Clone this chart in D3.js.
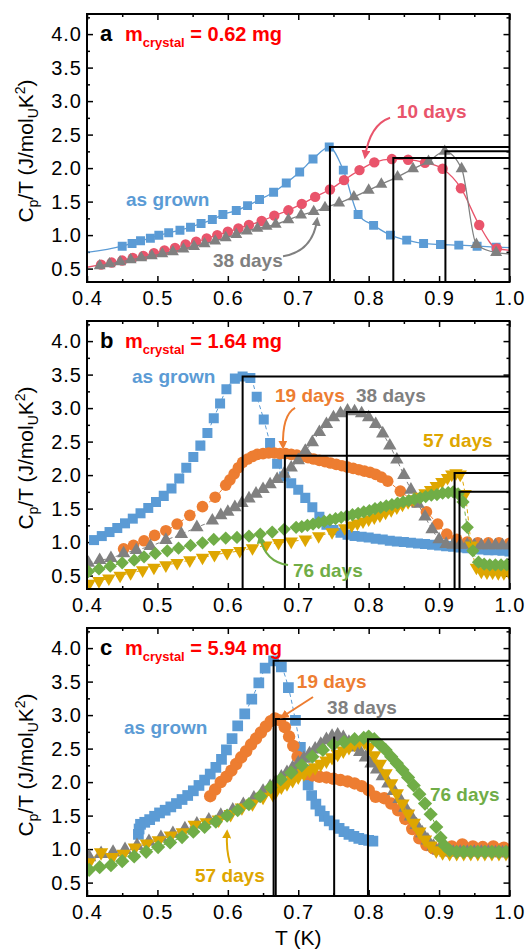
<!DOCTYPE html>
<meta charset="utf-8">
<style>

html, body {
  margin: 0;
  padding: 0;
  background: #fff;
}

svg {
  display: block;
  font-family: Arial, "Liberation Sans", sans-serif;
}

.axis text {
  font-size: 20px;
  letter-spacing: 1px;
  fill: #000;
}

.axis line {
  stroke: #000;
  stroke-width: 1.5px;
}

.axis .domain {
  display: none;
}

</style>
<svg id="chart"></svg>
<script src="https://d3js.org/d3.v7.min.js"></script>
<script>

// ---- data: [T (K), Cp/T (J/molU K^2)] ----

var xTicks = [0.4, 0.5, 0.6, 0.7, 0.8, 0.9, 1.0];
var xMinor = [0.45, 0.55, 0.65, 0.75, 0.85, 0.95];
var yTicks = [0.5, 1.0, 1.5, 2.0, 2.5, 3.0, 3.5, 4.0];
var yMinor = [0.75, 1.25, 1.75, 2.25, 2.75, 3.25, 3.75, 4.25];

// panel a, m = 0.62 mg
var asGrownA = [[0.385,0.72],[0.450,0.835],[0.464,0.875],[0.476,0.915],[0.490,0.954],[0.502,0.999],[0.516,1.034],[0.532,1.073],[0.547,1.118],[0.562,1.173],[0.578,1.232],[0.593,1.307],[0.612,1.366],[0.628,1.440],[0.645,1.530],[0.665,1.639],[0.683,1.778],[0.702,1.942],[0.721,2.135],[0.744,2.314],[0.764,1.970],[0.785,1.307],[0.807,1.145],[0.831,1.000],[0.854,0.925],[0.878,0.875],[0.902,0.860],[0.928,0.850],[0.954,0.835],[0.981,0.820],[1.015,0.810]];
var tenDaysA = [[0.385,0.49],[0.420,0.56],[0.435,0.59],[0.450,0.62],[0.465,0.66],[0.480,0.69],[0.495,0.73],[0.510,0.77],[0.525,0.81],[0.540,0.86],[0.555,0.90],[0.570,0.95],[0.585,1.00],[0.600,1.05],[0.615,1.10],[0.630,1.15],[0.648,1.21],[0.666,1.29],[0.686,1.37],[0.705,1.465],[0.724,1.57],[0.745,1.68],[0.765,1.82],[0.787,1.97],[0.808,2.085],[0.833,2.135],[0.856,2.125],[0.880,2.08],[0.905,1.99],[0.931,1.70],[0.957,1.15],[0.982,0.80],[1.015,0.76]];
var thirtyEightA = [[0.418,0.54],[0.432,0.57],[0.447,0.60],[0.462,0.63],[0.477,0.66],[0.492,0.69],[0.507,0.72],[0.522,0.75],[0.537,0.79],[0.552,0.83],[0.567,0.87],[0.582,0.91],[0.597,0.96],[0.612,1.01],[0.627,1.06],[0.642,1.10],[0.655,1.13],[0.668,1.16],[0.686,1.23],[0.704,1.30],[0.722,1.35],[0.738,1.41],[0.758,1.48],[0.779,1.57],[0.800,1.67],[0.818,1.76],[0.841,1.87],[0.863,1.99],[0.885,2.10],[0.908,2.25],[0.932,1.99],[0.953,0.86],[0.981,0.74],[1.015,0.71]];
var peaksA = [[0.745,2.314],[0.835,2.15],[0.909,2.25]];

// panel b, m = 1.64 mg
var asGrownB = [[0.410,1.03],[0.421,1.09],[0.432,1.15],[0.443,1.21],[0.454,1.28],[0.465,1.35],[0.476,1.43],[0.487,1.51],[0.498,1.60],[0.509,1.69],[0.520,1.80],[0.531,1.95],[0.541,2.11],[0.551,2.27],[0.561,2.44],[0.571,2.63],[0.580,2.85],[0.589,3.07],[0.598,3.28],[0.610,3.44],[0.621,3.47],[0.632,3.45],[0.641,3.17],[0.651,2.83],[0.660,2.48],[0.670,2.17],[0.680,1.98],[0.690,1.88],[0.700,1.78],[0.710,1.66],[0.720,1.52],[0.730,1.38],[0.740,1.26],[0.750,1.18],[0.760,1.14],[0.770,1.11],[0.780,1.09],[0.790,1.08],[0.800,1.07],[0.810,1.05],[0.820,1.04],[0.830,1.02],[0.840,1.01],[0.850,1.00],[0.860,0.99],[0.870,0.98],[0.880,0.97],[0.890,0.96],[0.900,0.95],[0.910,0.94],[0.920,0.93],[0.930,0.92],[0.940,0.91],[0.950,0.90],[0.960,0.89],[0.970,0.88],[0.980,0.88],[0.990,0.87],[1.000,0.86]];
var nineteenB = [[0.452,0.90],[0.466,0.95],[0.481,1.02],[0.496,1.10],[0.512,1.17],[0.528,1.27],[0.546,1.40],[0.564,1.53],[0.582,1.67],[0.597,1.85],[0.603,1.93],[0.609,2.02],[0.615,2.11],[0.621,2.19],[0.628,2.24],[0.635,2.28],[0.642,2.31],[0.650,2.32],[0.658,2.33],[0.666,2.33],[0.674,2.32],[0.682,2.32],[0.690,2.31],[0.698,2.30],[0.706,2.28],[0.714,2.26],[0.722,2.24],[0.730,2.22],[0.738,2.20],[0.746,2.18],[0.754,2.16],[0.762,2.14],[0.770,2.12],[0.778,2.10],[0.786,2.08],[0.794,2.06],[0.802,2.04],[0.810,2.01],[0.818,1.97],[0.827,1.91],[0.845,1.76],[0.865,1.60],[0.882,1.45],[0.898,1.27],[0.911,1.12],[0.925,1.04],[0.940,1.00],[0.955,0.99],[0.970,0.99],[0.985,0.99],[1.000,0.98]];
var thirtyEightB = [[0.402,0.69],[0.418,0.73],[0.434,0.76],[0.452,0.83],[0.470,0.88],[0.490,0.94],[0.512,1.03],[0.534,1.12],[0.556,1.22],[0.578,1.32],[0.590,1.40],[0.600,1.45],[0.610,1.52],[0.620,1.58],[0.630,1.65],[0.640,1.72],[0.650,1.79],[0.660,1.86],[0.670,1.94],[0.680,2.02],[0.690,2.11],[0.700,2.22],[0.710,2.36],[0.720,2.49],[0.730,2.64],[0.740,2.76],[0.750,2.86],[0.760,2.92],[0.770,2.96],[0.780,2.95],[0.790,2.92],[0.800,2.86],[0.810,2.76],[0.820,2.62],[0.830,2.44],[0.840,2.23],[0.850,2.00],[0.860,1.78],[0.870,1.57],[0.880,1.38],[0.890,1.19],[0.900,1.04],[0.910,0.97],[0.920,0.96],[0.930,0.96],[0.940,0.96],[0.950,0.95],[0.960,0.95],[0.970,0.95],[0.980,0.95],[0.990,0.95],[1.000,0.95]];
var fiftySevenB = [[0.403,0.38],[0.417,0.42],[0.431,0.46],[0.447,0.50],[0.462,0.54],[0.479,0.58],[0.495,0.62],[0.512,0.655],[0.528,0.69],[0.546,0.73],[0.564,0.77],[0.581,0.81],[0.599,0.84],[0.617,0.87],[0.635,0.91],[0.654,0.95],[0.672,0.99],[0.690,1.01],[0.710,1.04],[0.729,1.09],[0.748,1.15],[0.766,1.21],[0.776,1.25],[0.784,1.28],[0.792,1.31],[0.800,1.34],[0.808,1.37],[0.816,1.40],[0.824,1.44],[0.832,1.48],[0.840,1.52],[0.848,1.56],[0.856,1.60],[0.864,1.64],[0.872,1.68],[0.880,1.73],[0.888,1.78],[0.896,1.84],[0.904,1.90],[0.912,1.96],[0.918,2.01],[0.924,2.03],[0.930,2.01],[0.937,1.72],[0.946,0.95],[0.953,0.62],[0.960,0.56],[0.968,0.55],[0.976,0.55],[0.984,0.54],[0.992,0.54],[1.000,0.54]];
var seventySixB = [[0.402,0.56],[0.417,0.60],[0.433,0.64],[0.450,0.69],[0.467,0.73],[0.481,0.78],[0.497,0.83],[0.514,0.87],[0.530,0.91],[0.547,0.95],[0.564,0.99],[0.580,1.04],[0.597,1.06],[0.613,1.07],[0.630,1.09],[0.646,1.12],[0.663,1.15],[0.680,1.19],[0.697,1.22],[0.705,1.23],[0.713,1.25],[0.721,1.27],[0.729,1.29],[0.737,1.31],[0.745,1.33],[0.753,1.35],[0.761,1.37],[0.769,1.39],[0.777,1.41],[0.785,1.43],[0.793,1.45],[0.801,1.47],[0.809,1.50],[0.817,1.52],[0.825,1.54],[0.833,1.56],[0.841,1.58],[0.849,1.60],[0.857,1.62],[0.865,1.64],[0.873,1.66],[0.881,1.68],[0.889,1.70],[0.897,1.71],[0.905,1.73],[0.913,1.74],[0.920,1.75],[0.927,1.72],[0.934,1.60],[0.940,1.22],[0.948,0.87],[0.956,0.70],[0.964,0.67],[0.972,0.66],[0.980,0.66],[0.988,0.66],[0.996,0.66]];
var peaksB = [[0.621,3.47],[0.681,2.29],[0.769,2.94],[0.922,2.03],[0.929,1.75]];

// panel c, m = 5.94 mg
var asGrownC = [[0.473,1.22],[0.474,1.30],[0.476,1.37],[0.482,1.40],[0.489,1.44],[0.496,1.49],[0.503,1.54],[0.511,1.58],[0.519,1.63],[0.527,1.68],[0.535,1.74],[0.543,1.80],[0.551,1.87],[0.559,1.95],[0.567,2.03],[0.575,2.12],[0.583,2.22],[0.591,2.34],[0.598,2.48],[0.606,2.65],[0.614,2.84],[0.624,3.02],[0.634,3.24],[0.644,3.48],[0.653,3.70],[0.665,3.81],[0.676,3.72],[0.686,3.41],[0.696,2.92],[0.703,2.52],[0.709,2.18],[0.714,1.96],[0.719,1.80],[0.725,1.67],[0.731,1.57],[0.737,1.49],[0.744,1.42],[0.751,1.36],[0.758,1.31],[0.765,1.26],[0.772,1.22],[0.779,1.19],[0.786,1.16],[0.793,1.14],[0.800,1.13],[0.806,1.12]];
var nineteenC = [[0.575,1.79],[0.582,1.89],[0.590,2.00],[0.598,2.08],[0.605,2.17],[0.612,2.27],[0.619,2.37],[0.626,2.46],[0.633,2.56],[0.640,2.65],[0.647,2.74],[0.654,2.83],[0.661,2.91],[0.667,2.95],[0.674,2.92],[0.681,2.82],[0.687,2.68],[0.693,2.54],[0.699,2.38],[0.705,2.20],[0.712,2.12],[0.720,2.10],[0.730,2.08],[0.740,2.07],[0.750,2.05],[0.760,2.03],[0.770,2.01],[0.780,1.98],[0.790,1.94],[0.800,1.88],[0.810,1.78],[0.822,1.76],[0.832,1.68],[0.842,1.58],[0.852,1.45],[0.862,1.30],[0.872,1.16],[0.882,1.06],[0.892,1.01],[0.905,1.02],[0.918,1.04],[0.933,1.07],[0.948,1.04],[0.962,1.03],[0.977,1.04],[0.992,1.02]];
var thirtyEightC = [[0.403,0.88],[0.420,0.93],[0.437,0.95],[0.454,0.99],[0.471,1.05],[0.488,1.11],[0.505,1.17],[0.522,1.23],[0.539,1.30],[0.556,1.37],[0.573,1.43],[0.590,1.50],[0.607,1.58],[0.622,1.66],[0.637,1.76],[0.650,1.86],[0.660,1.93],[0.668,2.00],[0.676,2.07],[0.684,2.14],[0.692,2.21],[0.700,2.28],[0.708,2.35],[0.716,2.42],[0.724,2.49],[0.732,2.56],[0.740,2.63],[0.748,2.68],[0.756,2.70],[0.764,2.66],[0.772,2.59],[0.780,2.52],[0.788,2.45],[0.796,2.37],[0.804,2.28],[0.812,2.19],[0.820,2.09],[0.828,1.98],[0.836,1.87],[0.844,1.75],[0.852,1.62],[0.860,1.49],[0.868,1.36],[0.876,1.24],[0.884,1.13],[0.892,1.04],[0.900,0.98],[0.910,0.95],[0.920,0.95],[0.930,0.95],[0.940,0.95],[0.950,0.95],[0.960,0.95],[0.970,0.95],[0.980,0.94],[0.990,0.94],[1.000,0.94]];
var fiftySevenC = [[0.403,0.80],[0.420,0.95],[0.436,0.88],[0.452,0.93],[0.468,1.02],[0.485,1.08],[0.502,1.13],[0.519,1.20],[0.536,1.25],[0.553,1.36],[0.570,1.40],[0.587,1.44],[0.604,1.52],[0.620,1.62],[0.635,1.68],[0.650,1.78],[0.664,1.82],[0.668,1.86],[0.676,1.93],[0.684,1.98],[0.692,2.03],[0.700,2.08],[0.708,2.13],[0.716,2.18],[0.724,2.22],[0.732,2.27],[0.740,2.32],[0.748,2.37],[0.756,2.42],[0.764,2.47],[0.772,2.52],[0.780,2.57],[0.787,2.61],[0.794,2.60],[0.801,2.52],[0.808,2.40],[0.816,2.27],[0.824,2.13],[0.832,1.98],[0.840,1.83],[0.848,1.68],[0.856,1.53],[0.864,1.39],[0.872,1.26],[0.880,1.14],[0.888,1.05],[0.896,0.98],[0.905,0.95],[0.915,0.94],[0.925,0.94],[0.935,0.94],[0.945,0.94],[0.955,0.94],[0.965,0.94],[0.975,0.94],[0.985,0.94],[0.995,0.94]];
var seventySixC = [[0.403,0.69],[0.418,0.73],[0.434,0.76],[0.450,0.82],[0.467,0.89],[0.484,0.96],[0.501,1.03],[0.518,1.10],[0.535,1.18],[0.551,1.26],[0.567,1.33],[0.583,1.41],[0.599,1.50],[0.614,1.58],[0.630,1.67],[0.646,1.79],[0.661,1.92],[0.675,2.04],[0.690,2.14],[0.705,2.25],[0.720,2.38],[0.735,2.48],[0.750,2.56],[0.765,2.60],[0.780,2.64],[0.793,2.66],[0.800,2.68],[0.808,2.64],[0.816,2.56],[0.824,2.48],[0.832,2.38],[0.840,2.28],[0.848,2.18],[0.856,2.07],[0.864,1.95],[0.872,1.82],[0.880,1.68],[0.888,1.52],[0.896,1.33],[0.902,1.17],[0.908,1.05],[0.915,0.98],[0.925,0.96],[0.935,0.96],[0.945,0.96],[0.955,0.96],[0.965,0.96],[0.975,0.96],[0.985,0.96],[0.995,0.96]];
// [T, Cp/T, has horizontal line]
var peaksC = [[0.665,3.81,true],[0.668,2.94,true],[0.751,2.68,false],[0.799,2.64,true]];

// ---- layout ----

var width = 528;
var height = 950;
var plotLeft = 87;
var plotRight = 509.5;
var panelH = 268;

var color = {
  grown: '#5b9bd5',
  d10: '#e9546b',
  d19: '#ed7d31',
  d38: '#808080',
  d57: '#dea600',
  d76: '#70ad47'
};

var panels = [
  {
    id: 'a', top: 14, mass: '0.62', dashed: false, scale: 1,
    series: [
      {data: asGrownA, color: color.grown, shape: 'square'},
      {data: tenDaysA, color: color.d10, shape: 'circle'},
      {data: thirtyEightA, color: color.d38, shape: 'triangle'}
    ],
    peaks: peaksA,
    labels: [
      {text: 'as grown', color: color.grown, t: 0.4554, c: 1.44},
      {text: '10 days', color: color.d10, t: 0.840, c: 2.75},
      {text: '38 days', color: color.d38, t: 0.579, c: 0.52}
    ],
    arrows: [
      {color: color.d10, from: [0.8304, 2.752], via: [0.802, 2.65], to: [0.7949, 2.172]},
      {color: color.d38, from: [0.6784, 0.684], via: [0.721, 0.758], to: [0.7267, 1.234]}
    ]
  },
  {
    id: 'b', top: 321, mass: '1.64', dashed: true, scale: 1.12,
    series: [
      {data: asGrownB, color: color.grown, shape: 'square'},
      {data: nineteenB, color: color.d19, shape: 'circle'},
      {data: thirtyEightB, color: color.d38, shape: 'triangle'},
      {data: fiftySevenB, color: color.d57, shape: 'down'},
      {data: seventySixB, color: color.d76, shape: 'diamond'}
    ],
    peaks: peaksB,
    labels: [
      {text: 'as grown', color: color.grown, t: 0.4639, c: 3.375},
      {text: '19 days', color: color.d19, t: 0.667, c: 3.09},
      {text: '38 days', color: color.d38, t: 0.782, c: 3.09},
      {text: '57 days', color: color.d57, t: 0.877, c: 2.42},
      {text: '76 days', color: color.d76, t: 0.6926, c: 0.479}
    ],
    arrows: [
      {color: color.d19, from: [0.6955, 3.002], via: [0.677, 2.897], to: [0.6784, 2.42]},
      {color: color.d76, from: [0.6855, 0.658], via: [0.6528, 0.703], to: [0.6457, 1.076]}
    ]
  },
  {
    id: 'c', top: 628, mass: '5.94', dashed: true, scale: 1.2,
    series: [
      {data: asGrownC, color: color.grown, shape: 'square'},
      {data: nineteenC, color: color.d19, shape: 'circle'},
      {data: thirtyEightC, color: color.d38, shape: 'triangle'},
      {data: fiftySevenC, color: color.d57, shape: 'down'},
      {data: seventySixC, color: color.d76, shape: 'diamond'}
    ],
    peaks: peaksC,
    labels: [
      {text: 'as grown', color: color.grown, t: 0.4526, c: 2.718},
      {text: '19 days', color: color.d19, t: 0.698, c: 3.405},
      {text: '38 days', color: color.d38, t: 0.741, c: 3.016},
      {text: '76 days', color: color.d76, t: 0.887, c: 1.718},
      {text: '57 days', color: color.d57, t: 0.5534, c: 0.509}
    ],
    arrows: [
      {color: color.d19, from: [0.721, 3.27], via: [0.699, 3.12], to: [0.677, 2.972]},
      {color: color.d57, from: [0.6031, 0.793], via: [0.5974, 0.987], to: [0.5989, 1.255]}
    ]
  }
];

var shapeSize = {square: 80, circle: 85, triangle: 62, down: 62, diamond: 70};

var svg = d3.select('#chart')
  .attr('width', width)
  .attr('height', height);

var defs = svg.append('defs');

var x = d3.scaleLinear()
  .domain([0.4, 1.0])
  .range([plotLeft, plotRight]);

function symbolFor(shape, s) {
  var type = shape === 'circle' ? d3.symbolCircle
    : (shape === 'triangle' || shape === 'down') ? d3.symbolTriangle
    : d3.symbolSquare;
  return d3.symbol().type(type).size(shapeSize[shape] * s * s)();
}

function rotationFor(shape) {
  if (shape === 'down') return 180;
  if (shape === 'diamond') return 45;
  return 0;
}

panels.forEach(function (p) {
  var y = d3.scaleLinear()
    .domain([0.3, 4.3])
    .range([p.top + panelH, p.top]);

  var g = svg.append('g').attr('class', 'panel-' + p.id);

  defs.append('clipPath')
      .attr('id', 'clip-' + p.id)
    .append('rect')
      .attr('x', plotLeft)
      .attr('y', p.top)
      .attr('width', plotRight - plotLeft)
      .attr('height', panelH);

  // axes: labelled bottom/left, mirrored ticks on top/right, all pointing in
  g.append('g')
      .attr('class', 'axis')
      .attr('transform', 'translate(0,' + (p.top + panelH) + ')')
      .call(d3.axisBottom(x).tickValues(xTicks).tickSize(-6).tickPadding(9).tickFormat(d3.format('.1f')));
  g.append('g')
      .attr('class', 'axis')
      .attr('transform', 'translate(0,' + (p.top + panelH) + ')')
      .call(d3.axisBottom(x).tickValues(xMinor).tickSize(-3).tickFormat(''));
  g.append('g')
      .attr('class', 'axis')
      .attr('transform', 'translate(0,' + p.top + ')')
      .call(d3.axisTop(x).tickValues(xTicks).tickSize(-6).tickFormat(''));
  g.append('g')
      .attr('class', 'axis')
      .attr('transform', 'translate(0,' + p.top + ')')
      .call(d3.axisTop(x).tickValues(xMinor).tickSize(-3).tickFormat(''));

  g.append('g')
      .attr('class', 'axis')
      .attr('transform', 'translate(' + plotLeft + ',0)')
      .call(d3.axisLeft(y).tickValues(yTicks).tickSize(-6).tickPadding(5).tickFormat(d3.format('.1f')));
  g.append('g')
      .attr('class', 'axis')
      .attr('transform', 'translate(' + plotLeft + ',0)')
      .call(d3.axisLeft(y).tickValues(yMinor).tickSize(-3).tickFormat(''));
  g.append('g')
      .attr('class', 'axis')
      .attr('transform', 'translate(' + plotRight + ',0)')
      .call(d3.axisRight(y).tickValues(yTicks).tickSize(-6).tickFormat(''));
  g.append('g')
      .attr('class', 'axis')
      .attr('transform', 'translate(' + plotRight + ',0)')
      .call(d3.axisRight(y).tickValues(yMinor).tickSize(-3).tickFormat(''));

  var plot = g.append('g').attr('clip-path', 'url(#clip-' + p.id + ')');

  var line = d3.line()
    .curve(d3.curveMonotoneX)
    .x(function (d) { return x(d[0]); })
    .y(function (d) { return y(d[1]); });

  p.series.forEach(function (s) {
    plot.append('path')
        .attr('fill', 'none')
        .attr('stroke', s.color)
        .attr('stroke-width', p.dashed ? 1 : 1.3)
        .attr('stroke-dasharray', p.dashed ? '4,3' : null)
        .attr('d', line(s.data));

    var path = symbolFor(s.shape, p.scale);
    plot.append('g')
      .selectAll('path')
      .data(s.data)
      .enter().append('path')
        .attr('d', path)
        .attr('fill', s.color)
        .attr('transform', function (d) {
          return 'translate(' + x(d[0]) + ',' + y(d[1]) + ') rotate(' + rotationFor(s.shape) + ')';
        });
  });

  // peak markers: vertical line from the bottom, horizontal line to the right edge
  var guides = g.append('g')
    .attr('stroke', '#000')
    .attr('stroke-width', 2)
    .attr('fill', 'none');
  p.peaks.forEach(function (d) {
    var path = 'M' + x(d[0]) + ',' + (p.top + panelH) + 'V' + y(d[1]);
    if (d.length < 3 || d[2]) path += 'H' + plotRight;
    guides.append('path').attr('d', path);
  });

  g.append('rect')
      .attr('x', plotLeft)
      .attr('y', p.top)
      .attr('width', plotRight - plotLeft)
      .attr('height', panelH)
      .attr('fill', 'none')
      .attr('stroke', '#000')
      .attr('stroke-width', 2);

  // arrows
  p.arrows.forEach(function (a, i) {
    var id = 'arrow-' + p.id + i;
    defs.append('marker')
        .attr('id', id)
        .attr('viewBox', '0 0 10 10')
        .attr('refX', 7)
        .attr('refY', 5)
        .attr('markerWidth', 9)
        .attr('markerHeight', 9)
        .attr('markerUnits', 'userSpaceOnUse')
        .attr('orient', 'auto')
      .append('path')
        .attr('d', 'M0,0L10,5L0,10z')
        .attr('fill', a.color);
    g.append('path')
        .attr('d', 'M' + x(a.from[0]) + ',' + y(a.from[1]) +
          'Q' + x(a.via[0]) + ',' + y(a.via[1]) + ' ' + x(a.to[0]) + ',' + y(a.to[1]))
        .attr('fill', 'none')
        .attr('stroke', a.color)
        .attr('stroke-width', 2)
        .attr('marker-end', 'url(#' + id + ')');
  });

  // series labels
  g.selectAll('text.series-label')
    .data(p.labels)
    .enter().append('text')
      .attr('class', 'series-label')
      .attr('x', function (d) { return x(d.t); })
      .attr('y', function (d) { return y(d.c); })
      .attr('fill', function (d) { return d.color; })
      .style('font-size', '19px')
      .style('font-weight', 'bold')
      .text(function (d) { return d.text; });

  // panel letter and crystal mass
  g.append('text')
      .attr('x', 100)
      .attr('y', p.top + 27)
      .style('font-size', '22px')
      .style('font-weight', 'bold')
      .text(p.id);

  var mass = g.append('text')
      .attr('x', 125)
      .attr('y', p.top + 27)
      .attr('fill', '#ff0000')
      .style('font-size', '20px')
      .style('font-weight', 'bold');
  mass.append('tspan').text('m');
  mass.append('tspan').attr('dy', 6).style('font-size', '13px').text('crystal');
  mass.append('tspan').attr('dy', -6).text(' = ' + p.mass + ' mg');

  // y title
  var title = g.append('text')
      .attr('transform', 'translate(33,' + (p.top + panelH / 2 + 3) + ') rotate(-90)')
      .attr('text-anchor', 'middle')
      .style('font-size', '21px');
  title.append('tspan').text('C');
  title.append('tspan').attr('dy', 5).style('font-size', '14px').text('p');
  title.append('tspan').attr('dy', -5).text('/T (J/mol');
  title.append('tspan').attr('dy', 5).style('font-size', '14px').text('U');
  title.append('tspan').attr('dy', -5).text('K');
  title.append('tspan').attr('dy', -8).style('font-size', '14px').text('2');
  title.append('tspan').attr('dy', 8).text(')');
});

svg.append('text')
    .attr('x', (plotLeft + plotRight) / 2)
    .attr('y', 945)
    .attr('text-anchor', 'middle')
    .style('font-size', '21px')
    .text('T (K)');

</script>
